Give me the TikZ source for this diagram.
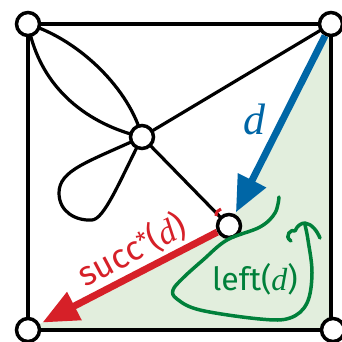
\documentclass[tikz,border=0pt]{standalone}
\usepackage{fontspec}
\setmainfont{Fira Sans}
\newfontfamily\dfont{Liberation Serif}
\newcommand{\dvar}{{\dfont\itshape d}}
\usetikzlibrary{arrows.meta}
\definecolor{myblue}{RGB}{0,102,166}
\definecolor{myred}{RGB}{214,32,40}
\definecolor{mygreen}{RGB}{0,128,58}
\definecolor{myfill}{RGB}{226,238,221}
\begin{document}
\begin{tikzpicture}[x=1pt,y=-1pt,
  vtx/.style={circle,draw=black,fill=white,line width=3.5pt,minimum size=23pt,inner sep=0pt},
  edge/.style={line width=3.2pt,black},
  bluearrow/.style={line width=7pt,myblue,-{Triangle[length=36pt,width=30pt]},shorten >=2pt},
  redarrow/.style={line width=7pt,myred,-{Triangle[length=36pt,width=30pt]},shorten >=3pt},
  greenline/.style={line width=3.5pt,mygreen,line cap=round,line join=round}]
\useasboundingbox (0,0) rectangle (341,342);
\coordinate (pTR) at (331,24);
\coordinate (pL) at (229,226);
\coordinate (pBL) at (28,330);
\coordinate (pBR) at (331,330);
\fill[myfill] (pTR) -- (pL) -- (pBL) -- (pBR) -- cycle;
% square
\draw[edge] (28,24) -- (331,24) -- (331,330) -- (28,330) -- cycle;
% graph edges
\draw[edge] (28,24) .. controls (80,40) and (130,90) .. (142,137);
\draw[edge] (28,24) .. controls (40,90) and (90,125) .. (142,137);
\draw[edge] (331,24) -- (142,137);
\draw[edge] (142,137) -- (229,226);
\draw[edge] (142,137) .. controls (88,162) and (59,170) .. (59,193)
   .. controls (59,212) and (76,221) .. (92,220)
   .. controls (104,219) and (118,185) .. (142,137);
% nodes
\node[vtx] (TL) at (28,24) {};
\node[vtx] (TR) at (331,24) {};
\node[vtx] (BL) at (28,330) {};
\node[vtx] (BR) at (333,330) {};
\node[vtx] (C) at (142,137) {};
\node[vtx] (L) at (229,226) {};
% arrows
\draw[bluearrow] (TR) -- (L);
\draw[redarrow] (L) -- (BL);
\draw[myred,line width=3pt] (216,216) .. controls (216,212) and (218,210) .. (221,209);
% green curve
\draw[greenline] plot[smooth,tension=0.6] coordinates {(279,197) (275,213) (260,227) (227,240) (203,260) (183,278) (173,290) (177,299) (200,310) (260,319) (290,318) (307,303) (312,273) (308,240) (305,225)};
\draw[greenline] (291,241) .. controls (283,236) and (292,228) .. (295,231) .. controls (297,226) and (301,223) .. (305,223) .. controls (312,224) and (317,231) .. (320,238);
% labels
\node[text=myblue,inner sep=0pt] (ld) at (254,119) {\fontsize{44}{44}\selectfont\dvar};
\node[text=mygreen,inner sep=0pt] (lleft) at (255,279) {\fontsize{32}{32}\selectfont left(\dvar)};
\node[text=myred,inner sep=0pt,rotate=28] (lsucc) at (132,250) {\fontsize{34}{34}\selectfont succ\raisebox{7pt}{\fontsize{24}{24}\selectfont *}(\dvar)};
\end{tikzpicture}
\end{document}
